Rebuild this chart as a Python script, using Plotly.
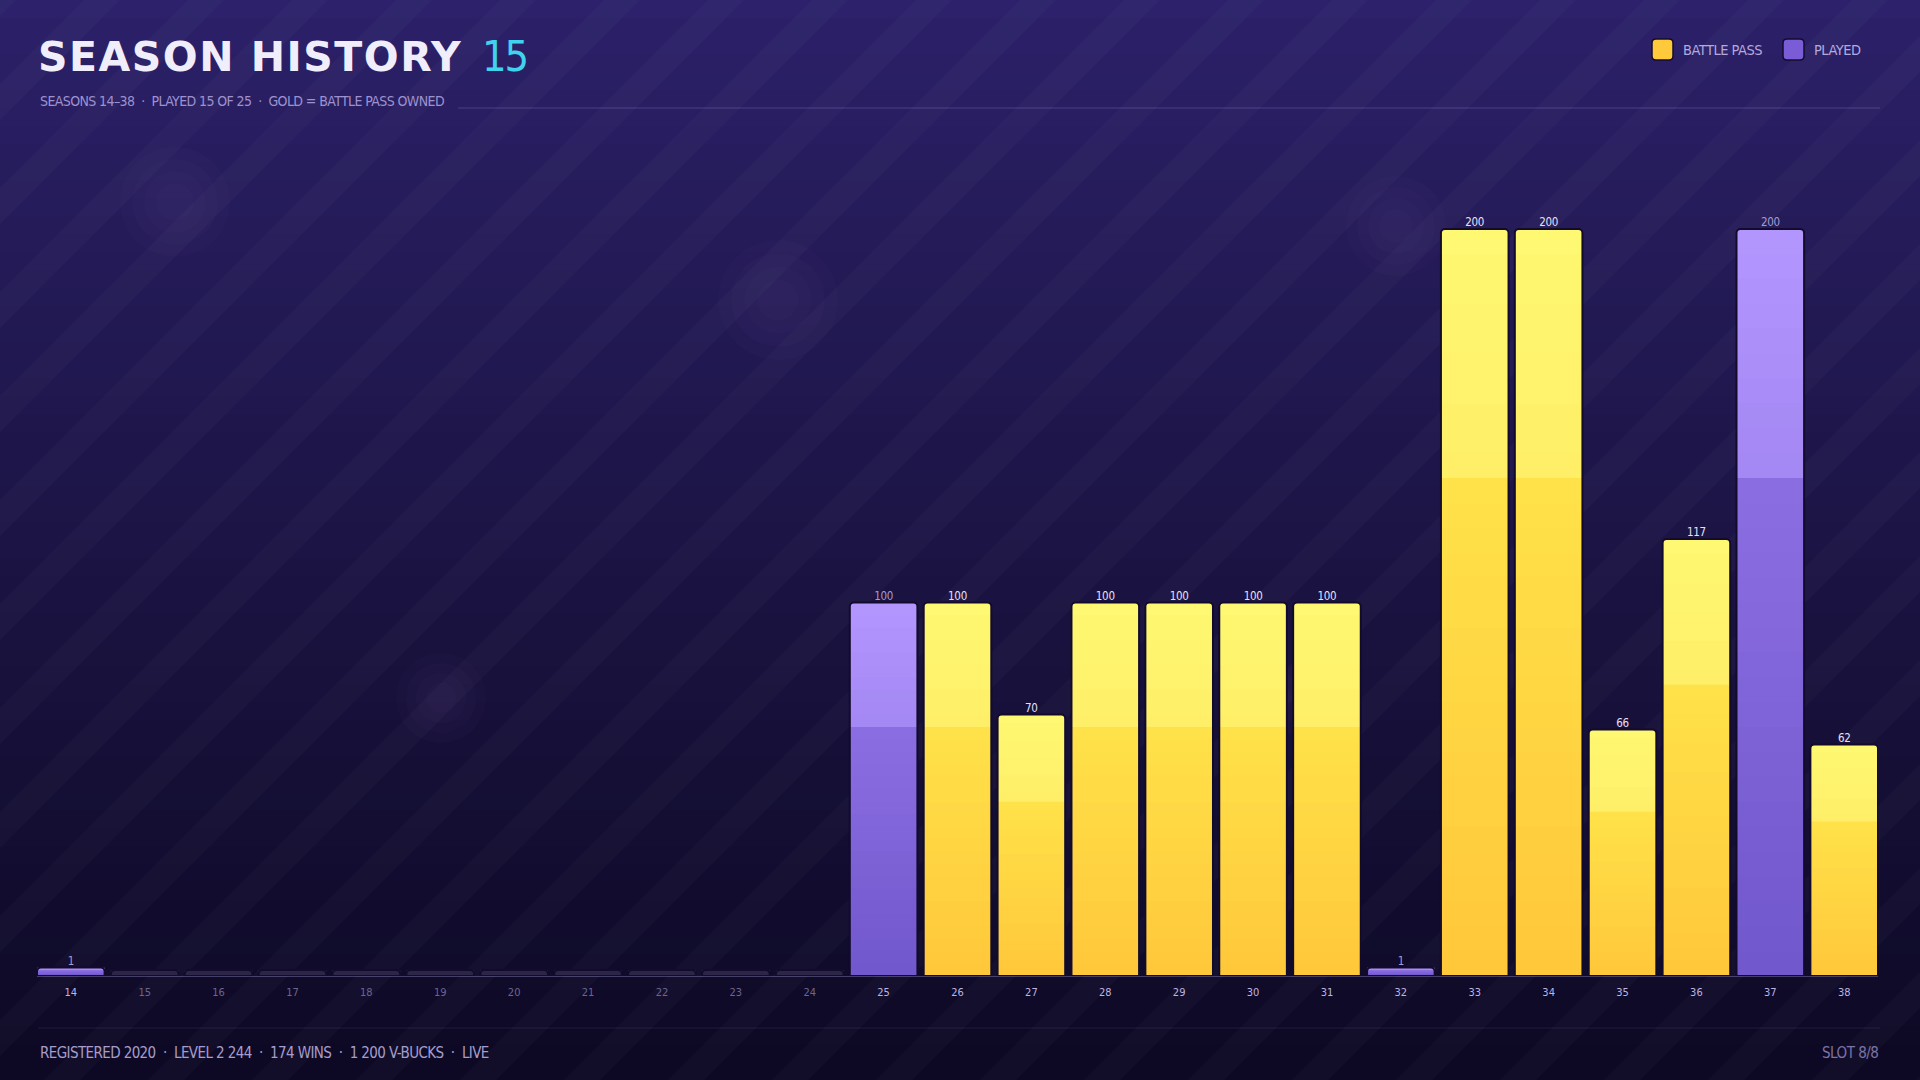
import plotly.graph_objects as go

W, H = 1920, 1080

# ---- data -------------------------------------------------------------
seasons = list(range(14, 39))
levels = [1, None, None, None, None, None, None, None, None, None, None,
          100, 100, 70, 100, 100, 100, 100, 1, 200, 200, 66, 117, 200, 62]
battle_pass = [False] * 11 + [False, True, True, True, True, True, True,
                              False, True, True, True, True, False, True]
played_count = 15
total_seasons = 25

title_text = "SEASON HISTORY"
subtitle_text = "SEASONS 14\u201338  \u00b7  PLAYED 15 OF 25  \u00b7  GOLD = BATTLE PASS OWNED"
footer_text = "REGISTERED 2020  \u00b7  LEVEL 2 244  \u00b7  174 WINS  \u00b7  1 200 V-BUCKS  \u00b7  LIVE"
slot_text = "SLOT 8/8"
legend_items = [("BATTLE PASS", "#FFC93C"), ("PLAYED", "#7A5CD6")]

# ---- helpers -----------------------------------------------------------
NARROW = "DejaVu Sans"


def narrow(s, ls=-0.3):
    # condensed face of the family, a touch tighter
    return '<span style="font-stretch:condensed;letter-spacing:{}px">{}</span>'.format(ls, s)


def px(x):
    return x / W


def py(y):
    return 1 - y / H


def lerp(a, b, t):
    return tuple(a[i] + (b[i] - a[i]) * t for i in range(3))


def rgb(c):
    return "rgb({:.0f},{:.0f},{:.0f})".format(*c)


def rounded_rect(x0, y0, x1, y1, r):
    # pixel coords (y down) -> paper path
    pts = "M {},{} L {},{} Q {},{} {},{} L {},{} Q {},{} {},{} L {},{} Q {},{} {},{} L {},{} Q {},{} {},{} Z".format(
        px(x0 + r), py(y0), px(x1 - r), py(y0), px(x1), py(y0), px(x1), py(y0 + r),
        px(x1), py(y1 - r), px(x1), py(y1), px(x1 - r), py(y1),
        px(x0 + r), py(y1), px(x0), py(y1), px(x0), py(y1 - r),
        px(x0), py(y0 + r), px(x0), py(y0), px(x0 + r), py(y0))
    return pts


GOLD = dict(bottom=(255, 199, 58), lo=(255, 226, 74), hi=(255, 238, 104), top=(255, 248, 114))
PURPLE = dict(bottom=(113, 87, 204), lo=(139, 110, 226), hi=(163, 135, 242), top=(180, 150, 255))
EMPTY = (44, 39, 74)


def grad(p, f):
    if f < 2 / 3:
        return lerp(p["bottom"], p["lo"], f / (2 / 3))
    return lerp(p["hi"], p["top"], (f - 2 / 3) / (1 / 3))


# displayed heights (tiny values get a visible sliver)
heights = []
palettes = []
for lv, bp in zip(levels, battle_pass):
    if lv is None:
        heights.append(1.6)
        palettes.append(None)
    else:
        heights.append(max(lv, 2.3))
        palettes.append(GOLD if bp else PURPLE)

fig = go.Figure()

# ---- bars: overlaid slices give a vertical gradient ----------------------
NS = 30
for k in range(NS):
    frac = (NS - k) / NS
    f = (NS - k - 0.5) / NS
    cols = [rgb(EMPTY) if p is None else rgb(grad(p, f)) for p in palettes]
    fig.add_trace(go.Bar(
        x=seasons, y=[h * frac for h in heights],
        marker=dict(color=cols, line=dict(width=0), cornerradius=4 if k == 0 else 0),
        hoverinfo="skip", showlegend=False))

fig.add_trace(go.Bar(
    x=seasons, y=heights,
    marker=dict(color="rgba(0,0,0,0)", line=dict(color="#130b2c", width=2), cornerradius=4),
    hoverinfo="skip", showlegend=False))

# value labels
lab_x, lab_y, lab_t, lab_c = [], [], [], []
for s, lv, h, bp in zip(seasons, levels, heights, battle_pass):
    if lv is None:
        continue
    lab_x.append(s)
    lab_y.append(h)
    lab_t.append(narrow(str(lv)))
    lab_c.append("#e6e0f6" if bp else "#a59bd2")
fig.add_trace(go.Scatter(
    x=lab_x, y=lab_y, text=lab_t, mode="text", textposition="top center",
    textfont=dict(family=NARROW, size=11.5, color=lab_c),
    cliponaxis=False, hoverinfo="skip", showlegend=False))

# tick labels coloured by played / not played
ticktext = []
for s, lv in zip(seasons, levels):
    c = "#6c6590" if lv is None else "#bdb4e0"
    ticktext.append('<span style="color:{};font-stretch:condensed">{}</span>'.format(c, s))

# ---- background shapes -------------------------------------------------
shapes = []
bg_top = (44, 33, 106)
bg_bot = (13, 9, 36)
bands = 60
for i in range(bands):
    t = i / (bands - 1)
    c = lerp(bg_top, bg_bot, t ** 0.9)
    shapes.append(dict(type="rect", xref="paper", yref="paper", layer="below",
                       x0=0, x1=1, y0=py(H * (i + 1) / bands) - 0.002, y1=py(H * i / bands),
                       fillcolor=rgb(c), line=dict(width=0)))

# diagonal stripes
for o in range(-1100, 1960, 104):
    w = 36
    path = "M {},{} L {},{} L {},{} L {},{} Z".format(
        px(o), py(H), px(o + w), py(H), px(o + w + H), py(0), px(o + H), py(0))
    shapes.append(dict(type="path", path=path, xref="paper", yref="paper", layer="below",
                       fillcolor="rgba(255,255,255,0.024)", line=dict(width=0)))

# soft glows
for cx, cy, r in [(175, 202, 55), (778, 300, 60), (1396, 226, 50), (441, 698, 45), (1270, 700, 40)]:
    for j in range(4):
        rr = r * (1 - j * 0.22)
        shapes.append(dict(type="circle", xref="paper", yref="paper", layer="below",
                           x0=px(cx - rr), x1=px(cx + rr), y0=py(cy + rr), y1=py(cy - rr),
                           fillcolor="rgba(150,130,230,0.022)", line=dict(width=0)))

# header rule + footer rule
shapes.append(dict(type="line", xref="paper", yref="paper", x0=px(458), x1=px(1880),
                   y0=py(108), y1=py(108), line=dict(color="rgba(165,150,230,0.28)", width=1)))
shapes.append(dict(type="line", xref="paper", yref="paper", x0=px(38), x1=px(1880),
                   y0=py(1028), y1=py(1028), line=dict(color="rgba(165,150,230,0.12)", width=1)))

# legend swatches
annotations = []
lx = [1652, 1783]
for (name, col), x0 in zip(legend_items, lx):
    shapes.append(dict(type="path", path=rounded_rect(x0, 39, x0 + 21, 60, 4),
                       xref="paper", yref="paper", fillcolor=col,
                       line=dict(color="#140c2e", width=1.5)))
    annotations.append(dict(x=px(x0 + 29), y=py(50), xref="paper", yref="paper",
                            text=narrow(name, -0.5), showarrow=False, xanchor="left",
                            yanchor="middle",
                            font=dict(family=NARROW, size=14.5, color="#b3a9de")))

# ---- text --------------------------------------------------------------
annotations += [
    dict(x=px(36), y=py(57), xref="paper", yref="paper",
         text='<span style="letter-spacing:1.5px">{}</span>'.format(title_text),
         showarrow=False, xanchor="left", yanchor="middle",
         font=dict(family="DejaVu Sans", size=41, color="#f1eefc", weight=900)),
    dict(x=px(480), y=py(56), xref="paper", yref="paper", text=narrow(str(played_count), -2),
         showarrow=False, xanchor="left", yanchor="middle",
         font=dict(family=NARROW, size=43, color="#3fd3ee")),
    dict(x=px(38), y=py(101), xref="paper", yref="paper", text=narrow(subtitle_text, -0.6),
         showarrow=False, xanchor="left", yanchor="middle",
         font=dict(family=NARROW, size=14, color="#9d92cf")),
    dict(x=px(38), y=py(1053), xref="paper", yref="paper", text=narrow(footer_text, -0.6),
         showarrow=False, xanchor="left", yanchor="middle",
         font=dict(family=NARROW, size=15, color="#a69dcc")),
    dict(x=px(1880), y=py(1053), xref="paper", yref="paper", text=narrow(slot_text, -0.5),
         showarrow=False, xanchor="right", yanchor="middle",
         font=dict(family=NARROW, size=15, color="#7d74a6")),
]

gap = 0.085
y_top = 220
ppu = 747 / 200
fig.update_layout(
    width=W, height=H,
    margin=dict(l=0, r=0, t=0, b=0),
    paper_bgcolor="#120c30", plot_bgcolor="rgba(0,0,0,0)",
    barmode="overlay", bargap=gap,
    shapes=shapes, annotations=annotations,
    xaxis=dict(domain=[px(37), px(1878)], range=[13.5 + gap / 2, 38.5 - gap / 2],
               tickvals=seasons, ticktext=ticktext, ticks="", showgrid=False, zeroline=False,
               showline=True, linecolor="rgba(170,160,225,0.35)", linewidth=1,
               tickfont=dict(family=NARROW, size=11), ticklabelstandoff=6, fixedrange=True),
    yaxis=dict(domain=[py(976), py(976 - y_top * ppu)], range=[0, y_top], visible=False,
               fixedrange=True),
)

fig.write_html("out.html", config={"displayModeBar": False},
               post_script="document.body.style.margin='0';document.body.style.overflow='hidden';")
